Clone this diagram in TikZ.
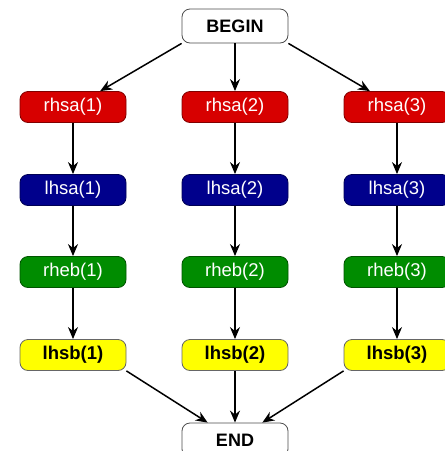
\documentclass[tikz,border=0pt]{standalone}
\usepackage{fontspec}
\setmainfont{Liberation Sans}
\usetikzlibrary{arrows.meta}
\definecolor{boxred}{RGB}{215,0,0}
\definecolor{boxblue}{RGB}{0,0,140}
\definecolor{boxgreen}{RGB}{0,140,0}
\definecolor{boxyellow}{RGB}{255,255,0}
\tikzset{
  x=1pt,y=-1pt,
  flowbox/.style={rounded corners=8pt,minimum width=106pt,minimum height=31pt,inner sep=0pt,
    font=\fontsize{18.5}{20}\selectfont,line width=0.8pt},
  redbox/.style={flowbox,fill=boxred,draw=boxred!60!black,text=white},
  bluebox/.style={flowbox,fill=boxblue,draw=boxblue!60!black,text=white},
  greenbox/.style={flowbox,fill=boxgreen,draw=boxgreen!60!black,text=white},
  yellowbox/.style={flowbox,fill=boxyellow,draw=black!60,text=black,font=\fontsize{18.5}{20}\selectfont\bfseries},
  termbox/.style={flowbox,minimum height=34pt,fill=white,draw=black!70,text=black,font=\fontsize{18}{20}\selectfont\bfseries},
  flow/.style={draw=black,line width=1.5pt,-{Stealth[length=12pt,width=10pt]}}
}
\begin{document}
\begin{tikzpicture}
\useasboundingbox (0,0) rectangle (445,451);
\node[termbox] (begin) at (235,26) {BEGIN};
\node[termbox] (end) at (235,440) {END};
\foreach \i/\x in {1/73,2/235,3/397}{
  \node[redbox] (rhsa\i) at (\x,107) {rhsa(\i)};
  \node[bluebox] (lhsa\i) at (\x,190) {lhsa(\i)};
  \node[greenbox] (rheb\i) at (\x,272) {rheb(\i)};
  \node[yellowbox] (lhsb\i) at (\x,355) {lhsb(\i)};
  \draw[flow] (rhsa\i) -- (lhsa\i);
  \draw[flow] (lhsa\i) -- (rheb\i);
  \draw[flow] (rheb\i) -- (lhsb\i);
}
\draw[flow] (begin.south west) -- (rhsa1);
\draw[flow] (begin) -- (rhsa2);
\draw[flow] (begin.south east) -- (rhsa3);
\draw[flow] (lhsb1.south east) -- (end);
\draw[flow] (lhsb2) -- (end);
\draw[flow] (lhsb3.south west) -- (end);
\end{tikzpicture}
\end{document}
